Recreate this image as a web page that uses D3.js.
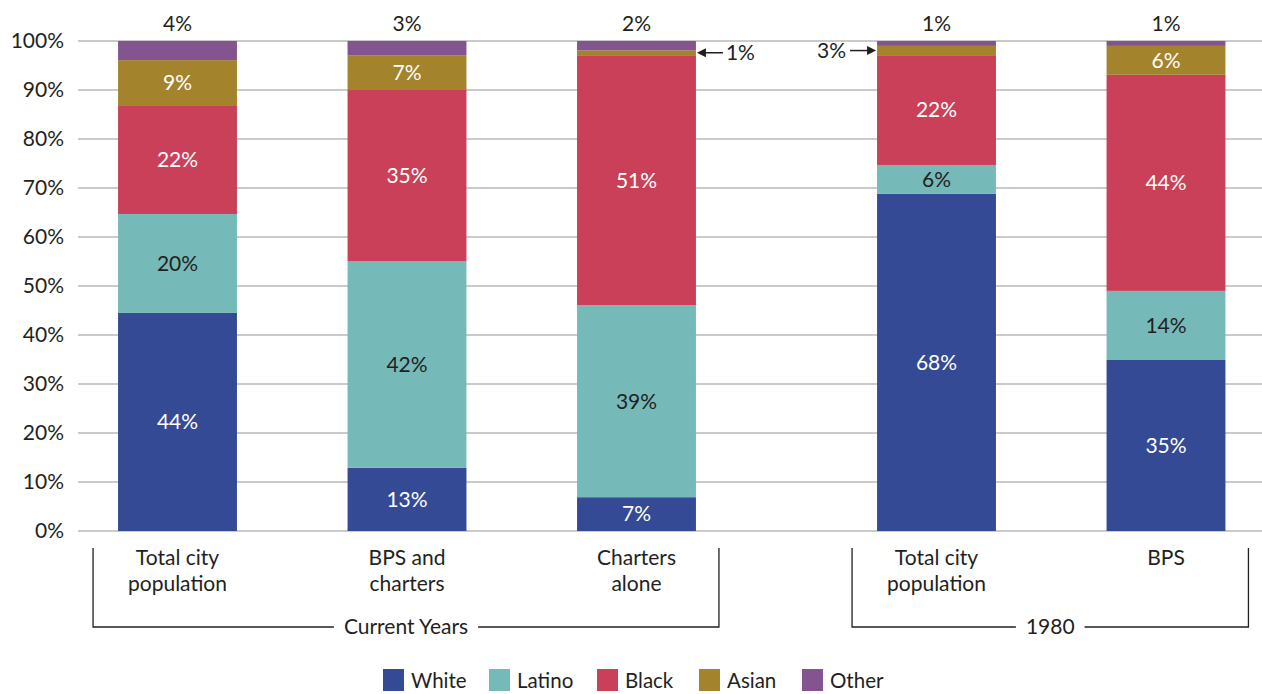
<!DOCTYPE html>
<html>
<head>
<meta charset="utf-8">
<script src="https://cdn.jsdelivr.net/npm/d3@7"></script>
<style>
  html, body { margin: 0; padding: 0; background: #fff; }
  svg text { font-family: Lato, "Open Sans", sans-serif; fill: #231f20; }
</style>
</head>
<body>
<svg id="chart" width="1262" height="694"></svg>
<script>
// ---------- data ----------
const categories = ["Total city population (current)", "BPS and charters", "Charters alone", "Total city population (1980)", "BPS (1980)"];
const categoryLines = [["Total city", "population"], ["BPS and", "charters"], ["Charters", "alone"], ["Total city", "population"], ["BPS"]];
const groups = ["Current Years", "1980"];
const groupOf = [0, 0, 0, 1, 1];
const seriesNames = ["White", "Latino", "Black", "Asian", "Other"];
const white  = [44.5, 12.9, 6.9, 68.8, 34.9];
const latino = [20.2, 42.2, 39.2, 5.9, 14.1];
const black  = [22.2, 34.9, 51.0, 22.4, 44.1];
const asian  = [9.2, 7.1, 1.0, 1.9, 5.9];
const other  = [3.9, 2.9, 1.9, 1.0, 1.0];
const whiteLabels  = ["44%", "13%", "7%", "68%", "35%"];
const latinoLabels = ["20%", "42%", "39%", "6%", "14%"];
const blackLabels  = ["22%", "35%", "51%", "22%", "44%"];
const asianLabels  = ["9%", "7%", "1%", "3%", "6%"];
const otherLabels  = ["4%", "3%", "2%", "1%", "1%"];
const yTicks = [0, 10, 20, 30, 40, 50, 60, 70, 80, 90, 100];
const tickLabels = ["0%", "10%", "20%", "30%", "40%", "50%", "60%", "70%", "80%", "90%", "100%"];

const colors = ["#344a95", "#76b9b9", "#c94058", "#a3842d", "#83548f"];
const labelColors = ["#ffffff", "#231f20", "#ffffff", "#ffffff", "#231f20"];
const seriesValues = [white, latino, black, asian, other];
const seriesLabels = [whiteLabels, latinoLabels, blackLabels, asianLabels, otherLabels];

// ---------- layout ----------
const svg = d3.select("#chart");
const W = 1262;
const y = d3.scaleLinear().domain([0, 100]).range([531, 41]);

const step = 229.5;
const groupStarts = [62.75, 821.75];
const groupCats = groups.map((g, gi) => categories.filter((c, i) => groupOf[i] === gi));
const bandScales = groupCats.map((cats, gi) =>
  d3.scaleBand().domain(cats).range([groupStarts[gi], groupStarts[gi] + step * cats.length])
    .paddingInner(0.482).paddingOuter(0.241));
const xOf = i => bandScales[groupOf[i]](categories[i]);
const bw = bandScales[0].bandwidth();
const fs = 21;

// grid + y axis
const yAxis = d3.axisLeft(y).tickValues(yTicks).tickFormat((d, i) => tickLabels[i]).tickSize(0).tickPadding(14);
svg.append("g")
  .selectAll("line").data(yTicks).join("line")
  .attr("x1", 78).attr("x2", W)
  .attr("y1", d => y(d)).attr("y2", d => y(d))
  .attr("stroke", "#b8b8b8").attr("stroke-width", 1.3);
const ax = svg.append("g").attr("transform", "translate(78,0)").call(yAxis);
ax.select(".domain").remove();
ax.selectAll("text").attr("font-size", fs).attr("fill", "#231f20")
  .style("font-family", "Lato, 'Open Sans', sans-serif");

// stacked data
const rows = categories.map((c, i) => {
  const r = { cat: c, idx: i };
  seriesNames.forEach((s, si) => r[s] = seriesValues[si][i]);
  return r;
});
const stacked = d3.stack().keys(seriesNames)(rows);

const layers = svg.append("g").selectAll("g").data(stacked).join("g")
  .attr("fill", (d, i) => colors[i]);
layers.selectAll("rect").data(d => d).join("rect")
  .attr("x", d => xOf(d.data.idx))
  .attr("width", bw)
  .attr("y", d => y(d[1]))
  .attr("height", d => y(d[0]) - y(d[1]));

// labels
stacked.forEach((layer, si) => {
  layer.forEach((d, i) => {
    const lbl = seriesLabels[si][i];
    const cx = xOf(i) + bw / 2;
    const cy = (y(d[0]) + y(d[1])) / 2;
    if (si === 4) {
      svg.append("text").attr("x", cx).attr("y", y(100) - 10)
        .attr("text-anchor", "middle").attr("font-size", fs).text(lbl);
    } else if (si === 3 && (d[1] - d[0]) < 3) {
      const ay = cy;
      if (groupOf[i] === 0) {
        const x0 = xOf(i) + bw + 1;
        svg.append("line").attr("x1", x0 + 26).attr("x2", x0 + 6).attr("y1", ay).attr("y2", ay)
          .attr("stroke", "#231f20").attr("stroke-width", 1.5);
        svg.append("path").attr("d", `M${x0},${ay} L${x0 + 9},${ay - 4.5} L${x0 + 9},${ay + 4.5} Z`).attr("fill", "#231f20");
        svg.append("text").attr("x", x0 + 29).attr("y", ay).attr("dy", "0.35em")
          .attr("font-size", fs).text(lbl);
      } else {
        const x0 = xOf(i) - 1;
        svg.append("line").attr("x1", x0 - 26).attr("x2", x0 - 6).attr("y1", ay).attr("y2", ay)
          .attr("stroke", "#231f20").attr("stroke-width", 1.5);
        svg.append("path").attr("d", `M${x0},${ay} L${x0 - 9},${ay - 4.5} L${x0 - 9},${ay + 4.5} Z`).attr("fill", "#231f20");
        svg.append("text").attr("x", x0 - 30).attr("y", ay).attr("dy", "0.35em")
          .attr("text-anchor", "end").attr("font-size", fs).text(lbl);
      }
    } else {
      svg.append("text").attr("x", cx).attr("y", cy).attr("dy", "0.35em")
        .attr("text-anchor", "middle").attr("font-size", fs)
        .style("fill", labelColors[si]).text(lbl);
    }
  });
});

// category labels
categories.forEach((c, i) => {
  const t = svg.append("text").attr("x", xOf(i) + bw / 2).attr("y", 565)
    .attr("text-anchor", "middle").attr("font-size", fs);
  categoryLines[i].forEach((ln, li) => {
    t.append("tspan").attr("x", xOf(i) + bw / 2).attr("dy", li === 0 ? 0 : 26).text(ln);
  });
});

// group brackets
groups.forEach((g, gi) => {
  const idxs = categories.map((c, i) => i).filter(i => groupOf[i] === gi);
  const left = xOf(idxs[0]) - 25;
  const right = xOf(idxs[idxs.length - 1]) + bw + 23;
  const mid = (left + right) / 2;
  const by = 627, topY = 548;
  const txt = svg.append("text").attr("x", mid).attr("y", by).attr("dy", "0.35em")
    .attr("text-anchor", "middle").attr("font-size", fs).text(g);
  const tw = txt.node().getComputedTextLength();
  svg.append("path")
    .attr("d", `M${left},${topY} V${by} H${mid - tw / 2 - 10}`)
    .attr("stroke", "#231f20").attr("stroke-width", 1.3).attr("fill", "none");
  svg.append("path")
    .attr("d", `M${mid + tw / 2 + 10},${by} H${right} V${topY}`)
    .attr("stroke", "#231f20").attr("stroke-width", 1.3).attr("fill", "none");
});

// legend
const legendX = [383, 489, 597, 699, 802];
const lg = svg.append("g").selectAll("g").data(seriesNames).join("g")
  .attr("transform", (d, i) => `translate(${legendX[i]},669)`);
lg.append("rect").attr("width", 21).attr("height", 22).attr("fill", (d, i) => colors[i]);
lg.append("text").attr("x", 28).attr("y", 12).attr("dy", "0.36em").attr("font-size", 20.5).text(d => d);
</script>
</body>
</html>
